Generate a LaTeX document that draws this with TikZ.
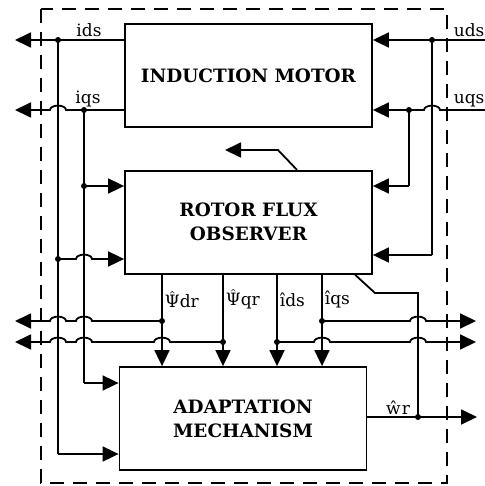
\documentclass[tikz,border=0pt]{standalone}
\usepackage{fontspec}
\setmainfont{DejaVu Serif}
\usetikzlibrary{positioning, arrows.meta, calc}

% bridge over a vertical wire: #1 gives the x of the wire, #2 the row
\newcommand{\hopleft}[2]{-- ($(#1 |- #2)+(4pt,0)$)
  arc[start angle=0, end angle=180, x radius=4pt, y radius=2.2pt]}
\newcommand{\hopright}[2]{-- ($(#1 |- #2)+(-4pt,0)$)
  arc[start angle=180, end angle=0, x radius=4pt, y radius=2.2pt]}
\newcommand{\psihat}{\(\hat{\mbox{Ψ}}\)}

\begin{document}
\begin{tikzpicture}[
  x=0.5pt, y=-0.5pt, line width=0.9pt,
  block/.style={draw, minimum width=123.5pt, minimum height=51.5pt,
    align=center, font=\fontsize{9.2}{12}\selectfont\bfseries},
  arr/.style={-{Triangle[length=8pt, width=7.5pt]}},
  dot/.style={circle, fill, inner sep=0pt, minimum size=3pt},
  lbl/.style={font=\fontsize{8.5}{10}\selectfont, inner sep=1pt},
  frame/.style={dash pattern=on 7pt off 4.5pt, line width=0.8pt}
]
\useasboundingbox (0,0) rectangle (485,486);
\draw[frame] (41,9) rectangle (447,483);

\node[block] (motor) at (248.5,75.5) {INDUCTION MOTOR};
\node[block, below=21pt of motor] (obs) {ROTOR FLUX\\OBSERVER};
\node[block] (adapt) at (243,418.5) {ADAPTATION\\MECHANISM};

% junctions and free ends
\coordinate (idsout) at (15,40);
\coordinate (iqsout) at (15,110);
\coordinate (idsj) at (58,40);
\coordinate (iqsj) at (84,110);
\coordinate (idsb) at (58,259);
\coordinate (iqsb) at (84,186);
\coordinate (idsc) at (58,454);
\coordinate (iqsc) at (84,383);
\coordinate (udsin) at (486,40);
\coordinate (uqsin) at (486,110);
\coordinate (udsj) at (432,40);
\coordinate (uqsj) at (409,110);
\coordinate (udsc) at (432,255);
\coordinate (uqsc) at (409,186);
\coordinate (obsk) at (278,150);
\coordinate (obsout) at (225,150);
\coordinate (pdrj) at (162,321);
\coordinate (pqrj) at (223,342);
\coordinate (idhj) at (277,342);
\coordinate (iqhj) at (322,321);
\coordinate (bus1l) at (15,321);
\coordinate (bus2l) at (15,342);
\coordinate (bus1r) at (476,321);
\coordinate (bus2r) at (476,342);
\coordinate (fbk) at (375,293);
\coordinate (fbc) at (418,293);
\coordinate (wrj) at (418,417);
\coordinate (wrout) at (477,417);

% stator currents
\draw[arr] (motor.west |- idsj) -- (idsout);
\draw[arr] (motor.west |- iqsj) \hopleft{idsj}{iqsj} -- (iqsout);
\node[lbl, above] (idslbl) at (89,40) {ids};
\node[lbl, above] (iqslbl) at (88,110) {iqs};
\draw (idsj) -- (idsc);
\draw[arr] (idsc) -- (idsc -| adapt.west);
\draw[arr] (idsb) \hopright{iqsj}{idsb} -- (idsb -| obs.west);
\draw (iqsj) -- (iqsc);
\draw[arr] (iqsc) -- (iqsc -| adapt.west);
\draw[arr] (iqsb) -- (iqsb -| obs.west);

% stator voltages
\draw[arr] (udsin) -- (motor.east |- udsin);
\draw[arr] (uqsin) \hopleft{udsj}{uqsin} -- (motor.east |- uqsin);
\node[lbl, anchor=south west] (udslbl) at (451,40) {uds};
\node[lbl, anchor=south west] (uqslbl) at (451,110) {uqs};
\draw (udsj) -- (udsc);
\draw[arr] (udsc) -- (udsc -| obs.east);
\draw (uqsj) -- (uqsc);
\draw[arr] (uqsc) -- (uqsc -| obs.east);

% observer outputs
\draw[arr] ($(obs.north)+(48.5,0)$) -- (obsk) -- (obsout);
\foreach \j/\t in {pdrj/\psihat dr, pqrj/\psihat qr, idhj/îds, iqhj/îqs}
  \draw[arr] (obs.south -| \j) -- (adapt.north -| \j)
    node[lbl, right, pos=0.27] (lbl-\j) {\t};

% buses
\draw[arr] (pdrj) \hopleft{iqsj}{pdrj} \hopleft{idsj}{pdrj} -- (bus1l);
\draw[arr] (pqrj) \hopleft{pdrj}{pqrj} \hopleft{iqsj}{pqrj}
  \hopleft{idsj}{pqrj} -- (bus2l);
\draw[arr] (iqhj) \hopright{wrj}{iqhj} -- (bus1r);
\draw[arr] (idhj) \hopright{iqhj}{idhj} \hopright{wrj}{idhj} -- (bus2r);

% rotor speed
\draw[arr] (adapt.east |- wrj) -- (wrout)
  node[lbl, pos=0.28, above] (wrlbl) {ŵr};
\draw ($(obs.south)+(106.5,0)$) -- (fbk) -- (fbc) -- (wrj);

\foreach \j in {idsj,iqsj,idsb,iqsb,udsj,uqsj,pdrj,pqrj,idhj,iqhj,wrj}
  \node[dot] (dot-\j) at (\j) {};
\end{tikzpicture}
\end{document}
